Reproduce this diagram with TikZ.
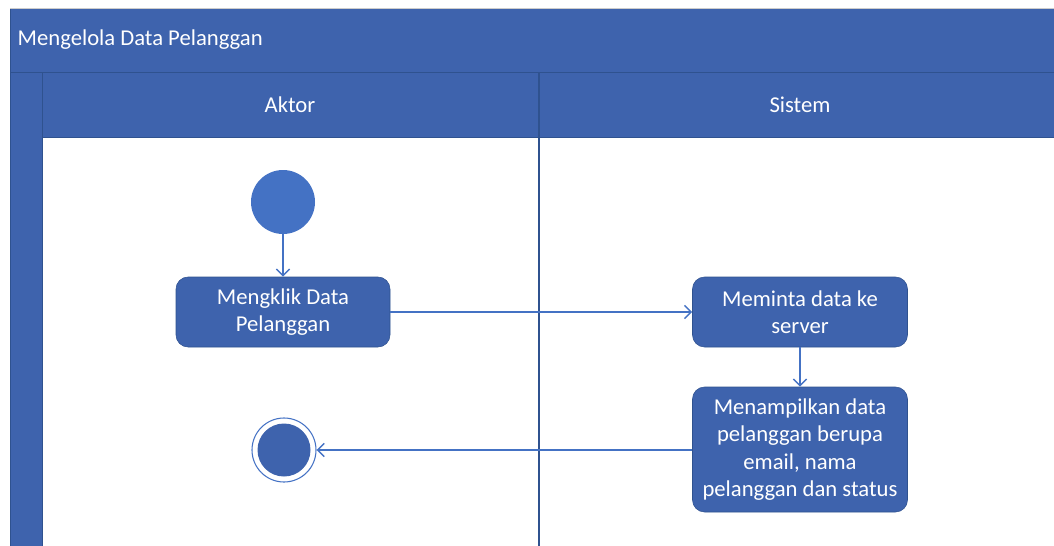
\documentclass[tikz,border=0pt]{standalone}
\usepackage{fontspec}
\setmainfont{Carlito}
\usetikzlibrary{arrows.meta}

\definecolor{lanefill}{HTML}{3E63AD}
\definecolor{laneline}{HTML}{2F528F}
\definecolor{startfill}{HTML}{4472C4}
\definecolor{flowline}{HTML}{4472C4}

\tikzset{
  lanetext/.style={text=white, font=\fontsize{17}{20}\selectfont},
  action/.style={draw=laneline, fill=lanefill, rounded corners=9pt, text=white,
    align=center, font=\fontsize{17}{20.5}\selectfont, inner sep=0pt},
  flow/.style={draw=flowline, line width=1.1pt, -{Straight Barb[length=5pt,width=10pt]}}
}

\begin{document}
\begin{tikzpicture}[x=0.75pt, y=-0.75pt]

\newcommand\Wd{1054}
\newcommand\Ht{546}

  \useasboundingbox (0,0) rectangle (\Wd,\Ht);

  %% pool and lanes
  \draw[laneline, fill=lanefill] (10,8) rectangle (\Wd+2,72);
  \draw[laneline, fill=lanefill] (10,72) rectangle (42,\Ht+2);
  \draw[laneline, fill=lanefill] (42,72) rectangle (\Wd+2,137);
  \draw[laneline, line width=0.8pt] (539,72) -- (539,\Ht+2);
  \draw[gray!40] (10,8) -- (\Wd,8);

  \node[lanetext, anchor=west] (pool) at (13,40) {Mengelola Data Pelanggan};
  \node[lanetext] (aktor) at (290,105) {Aktor};
  \node[lanetext] (sistem) at (800,105) {Sistem};

  %% nodes
  \node[circle, fill=startfill, minimum size=64*0.75pt, inner sep=0pt] (start) at (283,202) {};
  \node[action, minimum width=214*0.75pt, minimum height=70*0.75pt] (klik) at (283,312)
    {Mengklik Data\\Pelanggan};
  \node[action, minimum width=215*0.75pt, minimum height=70*0.75pt] (minta) at (800,312)
    {Meminta data ke\\server};
  \node[action, minimum width=215*0.75pt, minimum height=125*0.75pt] (tampil) at (800,449.5)
    {Menampilkan data\\pelanggan berupa\\email, nama\\pelanggan dan status};
  \node[circle, draw=flowline, line width=0.8pt, minimum size=64*0.75pt, inner sep=0pt] (end) at (284,450) {};
  \node[circle, fill=lanefill, minimum size=53*0.75pt, inner sep=0pt] (endin) at (end) {};

  %% flows
  \draw[flow] (start) -- (klik);
  \draw[flow] (klik) -- (minta);
  \draw[flow] (minta) -- (tampil);
  \draw[flow] (tampil.west |- end) -- (end);

\end{tikzpicture}
\end{document}
